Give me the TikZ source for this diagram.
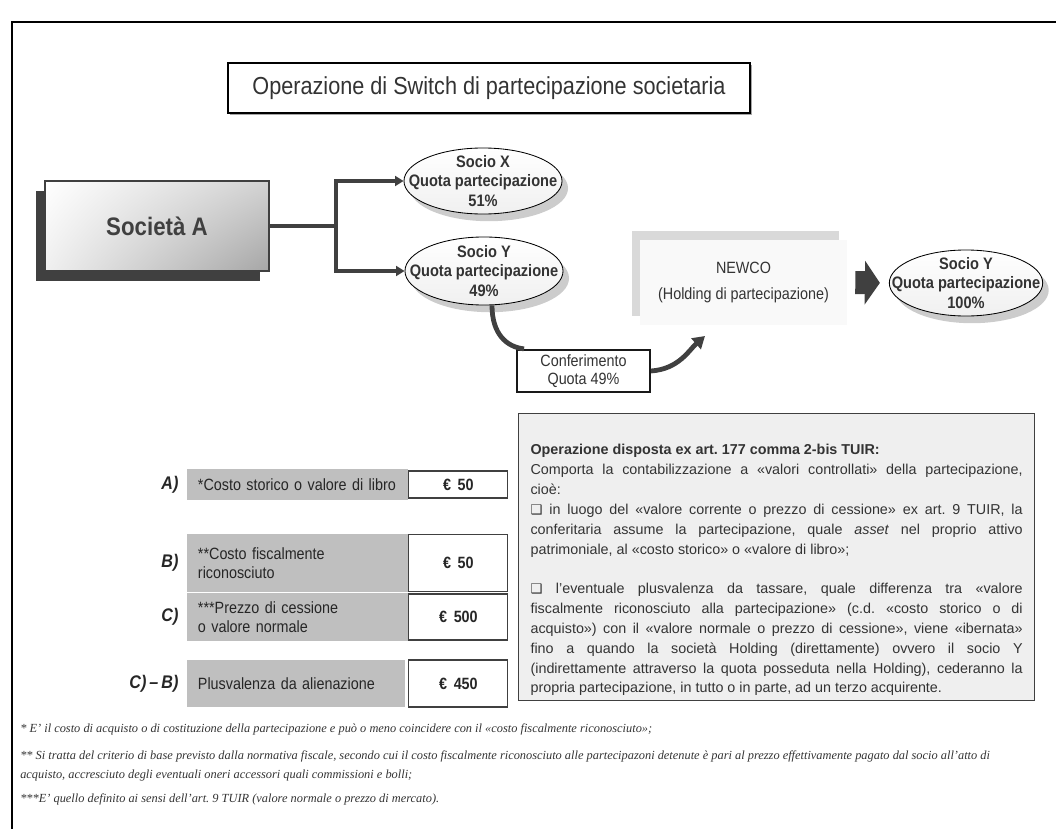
\documentclass[tikz,border=0pt]{standalone}
\usepackage{fontspec}
\setmainfont{Liberation Sans}
\newfontfamily\narrowfont{Liberation Sans}[FakeStretch=0.88]
\newfontfamily\notefont{Liberation Serif}
\newfontfamily\symbfont{DejaVu Sans}
\usetikzlibrary{arrows.meta,positioning,shapes.geometric,shadows,shadings}
\definecolor{ink}{HTML}{333333}
\definecolor{darkc}{HTML}{404040}
\definecolor{cellgray}{HTML}{BFBFBF}
\definecolor{notebg}{HTML}{EFEFEF}
\definecolor{newcobg}{HTML}{F9F9F9}
\definecolor{newcoshade}{HTML}{D9D9D9}
\newcommand{\sq}{{\symbfont\fontsize{9.5}{9.5}\selectfont ❑}}
\frenchspacing

\begin{document}
\begin{tikzpicture}[x=0.025cm,y=-0.025cm,
  ttl/.style={draw=black,line width=1.1pt,fill=white,minimum width=13.05cm,minimum height=1.25cm,text=ink,
    font={\narrowfont\fontsize{17.5}{20}\selectfont},drop shadow={shadow xshift=0.05cm,shadow yshift=-0.05cm,fill=gray!70,opacity=1}},
  soc/.style={draw=darkc,line width=0.8pt,upper left=white,upper right=gray!35,lower left=gray!12,lower right=gray!70,
    minimum width=5.6cm,minimum height=2.25cm,text=darkc,font={\narrowfont\bfseries\fontsize{18}{20}\selectfont},
    drop shadow={shadow xshift=-0.225cm,shadow yshift=-0.25cm,fill=darkc,opacity=1}},
  ell/.style={ellipse,draw=black,line width=0.6pt,top color=white,bottom color=gray!12,inner xsep=-0.5cm,inner ysep=-0.12cm,
    minimum width=3.95cm,minimum height=1.65cm,align=center,text=ink,font={\narrowfont\bfseries\fontsize{11.8}{14}\selectfont},
    drop shadow={shadow xshift=0.15cm,shadow yshift=-0.18cm,fill=gray!40,opacity=1}},
  newco/.style={fill=newcobg,minimum width=5.175cm,minimum height=2.125cm,align=center,text=ink,
    font={\narrowfont\fontsize{11.6}{14}\selectfont},drop shadow={shadow xshift=-0.2cm,shadow yshift=0.225cm,fill=newcoshade,opacity=1}},
  conf/.style={draw=black!90,line width=1.4pt,fill=white,minimum width=3.325cm,minimum height=1.05cm,align=center,text=ink,
    font={\narrowfont\fontsize{11.6}{12.8}\selectfont}},
  conn/.style={darkc,line width=2.2pt},
  tube/.style={darkc,line width=3.4pt},
  bigarr/.style={darkc,line width=0.575cm,-{Triangle[length=0.375cm 0,width=1.075cm 0]}},
  cell/.style={fill=cellgray,inner xsep=0.275cm,text width=4.975cm,align=left,text=black!85,
    font={\narrowfont\fontsize{11.6}{13.5}\selectfont}},
  val/.style={draw=darkc,line width=0.8pt,fill=white,minimum width=2.475cm,text=black!85,font={\narrowfont\bfseries\fontsize{11.6}{13}\selectfont}},
  lab/.style={inner sep=0pt,text=black!85,font={\narrowfont\bfseries\itshape\fontsize{13}{14}\selectfont}},
  note/.style={draw=darkc,line width=0.8pt,fill=notebg,text width=12.3cm,inner xsep=0.3cm,inner ysep=0.12cm,align=justify,text=ink,
    font={\fontsize{10.2}{14.1}\selectfont}},
  fn/.style={anchor=base west,inner sep=0pt,align=left,text=ink,font={\notefont\itshape\fontsize{8.8}{13.5}\selectfont}}]
\useasboundingbox (0,0) rectangle (1056,828);
\draw[line width=2pt] (12,850) -- (12,22) -- (1070,22);

\node[ttl] (title) at (489,88) {Operazione di Switch di partecipazione societaria};
\node[soc] (soca) at (157,226) {Società A};
\node[ell] (socx) at (483,181) {Socio X\\Quota partecipazione\\51\%};
\node[ell,minimum height=1.7cm] (socy) at (484,271) {Socio Y\\Quota partecipazione\\49\%};
\node[newco] (newco) at (743.5,282.5) {NEWCO\\[5pt](Holding di partecipazione)};
\node[ell,minimum width=3.525cm] (socy2) at (966,283) {Socio Y\\Quota partecipazione\\100\%};
\node[conf] (conf) at (583.5,371) {Conferimento\\Quota 49\%};

\coordinate (fork) at (336,226);
\coordinate (cend) at (705,336);
\draw[conn] (soca.east) -- (fork);
\draw[conn,-{Triangle[length=6pt,width=7pt]}] (fork) |- (socx.west);
\draw[conn,-{Triangle[length=6pt,width=7pt]}] (fork) |- (socy.west);
\draw[bigarr,shorten <=0.2cm,shorten >=0.225cm] (newco.east) -- (socy2.west);
\draw[tube] ([xshift=0.2cm]socy.south) .. controls +(0,-0.7cm) and +(-0.45cm,0.05cm) .. ([xshift=0.2cm]conf.north west);
\draw[tube,-{Triangle[length=8.5pt,width=10pt]}] (conf.east) .. controls +(0.7cm,0.05cm) and +(-0.4cm,-0.35cm) .. (cend);

\node[note,anchor=north west] (norm) at (518,413) {\rule{0pt}{26pt}\textbf{Operazione disposta ex art. 177 comma 2-bis TUIR:}\\
Comporta la contabilizzazione a «valori controllati» della partecipazione,\linebreak cioè:\\
\sq\ in luogo del «valore corrente o prezzo di cessione» ex art. 9 TUIR, la\linebreak
conferitaria assume la partecipazione, quale \textit{asset} nel proprio attivo\linebreak
patrimoniale, al «costo storico» o «valore di libro»;\\[14.1pt]
\sq\ l’eventuale plusvalenza da tassare, quale differenza tra «valore\linebreak
fiscalmente riconosciuto alla partecipazione» (c.d. «costo storico o di\linebreak
acquisto») con il «valore normale o prezzo di cessione», viene «ibernata»\linebreak
fino a quando la società Holding (direttamente) ovvero il socio Y\linebreak
(indirettamente attraverso la quota posseduta nella Holding), cederanno la\linebreak
propria partecipazione, in tutto o in parte, ad un terzo acquirente.};

\node[cell,minimum height=0.775cm] (rowa) at (297.5,484.5) {*Costo storico o valore di libro};
\node[cell,minimum height=1.45cm] (rowb) at (297.5,563) {**Costo fiscalmente\\riconosciuto};
\node[cell,minimum height=1.2cm] (rowc) at (297.5,617) {***Prezzo di cessione\\o valore normale};
\node[cell,minimum height=1.175cm,text width=4.9cm] (rowd) at (296,683.5) {Plusvalenza da alienazione};
\node[val,minimum height=0.675cm,right=0pt of rowa] (vala) {€\, 50};
\node[val,minimum height=1.425cm,right=0pt of rowb] (valb) {€\, 50};
\node[val,minimum height=1.15cm,right=0pt of rowc] (valc) {€\, 500};
\node[val,minimum height=1.175cm,right=0.075cm of rowd] (vald) {€\, 450};
\node[lab,left=0.2cm of rowa] (laba) {A)};
\node[lab,left=0.2cm of rowb] (labb) {B)};
\node[lab,left=0.2cm of rowc] (labc) {C)};
\node[lab,left=0.2cm of rowd] (labd) {C)\,–\,B)};

\node[fn] (fn1) at (20,732) {* E’ il costo di acquisto o di costituzione della partecipazione e può o meno coincidere con il «costo fiscalmente riconosciuto»;};
\node[fn] (fn2) at (20,778) {** Si tratta del criterio di base previsto dalla normativa fiscale, secondo cui il costo fiscalmente riconosciuto alle partecipazoni detenute è pari al prezzo effettivamente pagato dal socio all’atto di\\acquisto, accresciuto degli eventuali oneri accessori quali commissioni e bolli;};
\node[fn] (fn3) at (20,802) {***E’ quello definito ai sensi dell’art. 9 TUIR (valore normale o prezzo di mercato).};
\end{tikzpicture}
\end{document}
